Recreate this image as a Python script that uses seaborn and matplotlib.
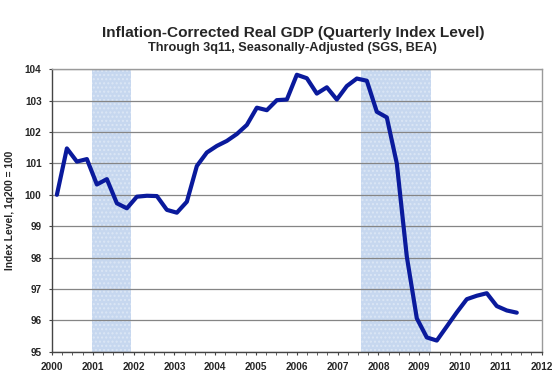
"""
Inflation-corrected real GDP, quarterly index level (1q2000 = 100), through 3q11
"""

import numpy as np
import pandas as pd
import matplotlib
matplotlib.use("Agg")
import matplotlib.pyplot as plt
from matplotlib.ticker import MultipleLocator
import seaborn as sns

# ==================== Data ====================
# quarterly index values, 1q2000 .. 3q2011
gdp_index = [
    100.00, 101.48, 101.06, 101.14,   # 2000
    100.33, 100.50, 99.73, 99.57,     # 2001
    99.94, 99.97, 99.96, 99.52,       # 2002
    99.43, 99.78, 100.92, 101.35,     # 2003
    101.56, 101.72, 101.94, 102.23,   # 2004
    102.78, 102.70, 103.02, 103.04,   # 2005
    103.83, 103.72, 103.23, 103.43,   # 2006
    103.04, 103.47, 103.71, 103.64,   # 2007
    102.65, 102.47, 101.00, 98.03,    # 2008
    96.06, 95.45, 95.35, 95.80,       # 2009
    96.25, 96.67, 96.78, 96.86,       # 2010
    96.45, 96.31, 96.24,              # 2011
]
quarter_labels = [f"{q}q{y % 100:02d}" for y in range(2000, 2012) for q in range(1, 5)][:len(gdp_index)]
year_ticks = list(range(2000, 2013))
recessions = [(2000.97, 2001.94), (2007.57, 2009.29)]

# position of each quarter on the year axis (as placed in the original chart)
x_pos = 2000.12 + 0.245 * np.arange(len(gdp_index))
df = pd.DataFrame({"quarter": quarter_labels, "x": x_pos, "index": gdp_index})

# ==================== Plot ====================
sns.set_style("white")
plt.rcParams["font.family"] = ["Liberation Sans", "DejaVu Sans"]

fig = plt.figure(figsize=(5.59, 3.88), dpi=100)
ax = fig.add_axes([0.093, 0.094, 0.876, 0.727])

for start, end in recessions:
    ax.axvspan(start, end, facecolor="#c6d7ef", edgecolor="#dbe6f5",
               hatch="....", linewidth=0, zorder=0)

sns.lineplot(data=df, x="x", y="index", color="#0a1a9c", linewidth=3.0,
             ax=ax, zorder=3)

ax.set_xlim(2000, 2012)
ax.set_ylim(95, 104)
ax.set_xticks(year_ticks)
ax.set_xticklabels([str(y) for y in year_ticks])
ax.xaxis.set_minor_locator(MultipleLocator(0.25))
ax.set_yticks(range(95, 105))
ax.yaxis.grid(True, color="#858585", linewidth=0.9)
ax.set_axisbelow(True)

ax.tick_params(axis="both", which="major", direction="out", length=2.5,
               width=0.8, color="#444444", labelsize=7.2, pad=5)
ax.tick_params(axis="x", which="minor", direction="out", length=2.5,
               width=0.6, color="#444444", bottom=True)
ax.tick_params(axis="x", bottom=True)
ax.tick_params(axis="y", left=True)
for lbl in ax.get_xticklabels() + ax.get_yticklabels():
    lbl.set_fontweight("bold")

for side in ["left", "bottom"]:
    ax.spines[side].set_color("#444444")
    ax.spines[side].set_linewidth(1.0)
for side in ["top", "right"]:
    ax.spines[side].set_color("#9a9a9a")
    ax.spines[side].set_linewidth(1.0)

ax.set_xlabel("")
ax.set_ylabel("Index Level, 1q200 = 100", fontsize=7.4, fontweight="bold", labelpad=7)

fig.text(0.524, 0.915, "Inflation-Corrected Real GDP (Quarterly Index Level)",
         ha="center", va="center", fontsize=11.1, fontweight="bold")
fig.text(0.524, 0.876, "Through 3q11, Seasonally-Adjusted (SGS, BEA)",
         ha="center", va="center", fontsize=9.2, fontweight="bold")

fig.savefig("out.png", dpi=100, facecolor="white")
